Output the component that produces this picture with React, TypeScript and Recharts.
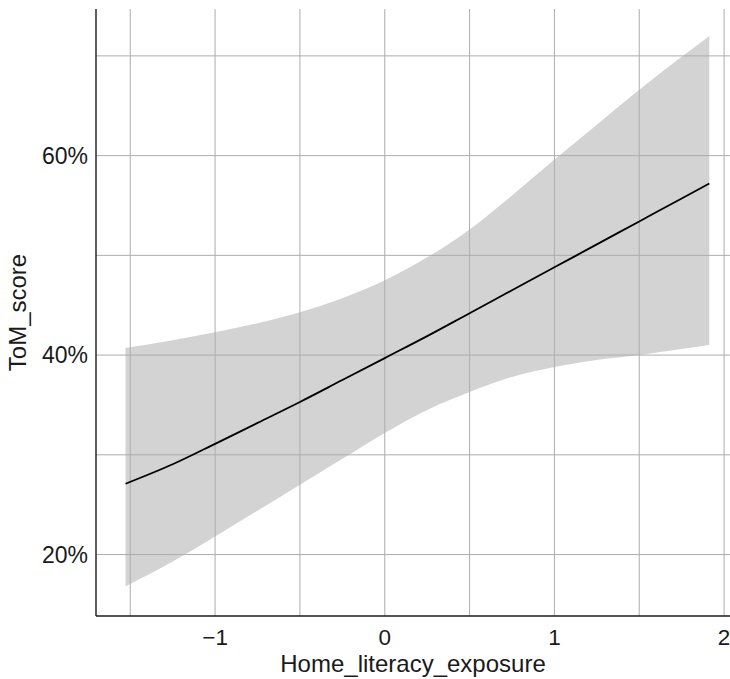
import React from "react";
import { Area, ComposedChart, Label, Line, ReferenceLine, XAxis, YAxis } from "recharts";

const exposure = [-1.528, -1.25, -1, -0.75, -0.5, -0.25, 0, 0.25, 0.5, 0.75, 1, 1.25, 1.5, 1.75, 1.913];
const fitted = [27.1, 29.05, 31.1, 33.2, 35.3, 37.5, 39.7, 41.9, 44.2, 46.5, 48.8, 51.1, 53.4, 55.7, 57.2];
const lower = [16.8, 19.3, 21.8, 24.4, 27.0, 29.6, 32.2, 34.5, 36.3, 37.8, 38.8, 39.5, 40.0, 40.6, 41.0];
const upper = [40.7, 41.5, 42.3, 43.2, 44.3, 45.7, 47.5, 49.8, 52.6, 56.0, 59.6, 63.1, 66.6, 69.9, 72.0];

const xTicks = [-1, 0, 1, 2];
const yTicks = [20, 40, 60];
const xGrid = [-1.5, -1, -0.5, 0, 0.5, 1, 1.5, 2];
const yGrid = [20, 30, 40, 50, 60, 70];

const data = exposure.map((x, i) => ({
	x,
	fit: fitted[i],
	band: [lower[i], upper[i]],
}));

const font = "'Liberation Sans', Arial, sans-serif";
const ink = "#1a1a1a";
const gridColor = "#adadad";

const fmtX = (v: number) => (v < 0 ? `\u2212${Math.abs(v)}` : `${v}`);

const App: React.FC = () => {
	return (
		<div style={{ position: "absolute", left: 0, top: 0, fontFamily: font }}>
			<ComposedChart width={730} height={679} data={data} margin={{ top: 9, right: 0, bottom: 0, left: 0 }}>
				<XAxis
					dataKey="x"
					type="number"
					domain={[-1.702, 2.035]}
					ticks={xTicks}
					tickFormatter={fmtX}
					allowDataOverflow
					height={63}
					tickLine={false}
					tickSize={0}
					tickMargin={13}
					axisLine={{ stroke: ink, strokeWidth: 1.4 }}
					tick={{ fill: ink, fontSize: 22.5, fontFamily: font }}
				>
					<Label
						value="Home_literacy_exposure"
						position="insideBottom"
						offset={7}
						style={{ fill: ink, fontSize: 24, fontFamily: font }}
					/>
				</XAxis>
				<YAxis
					type="number"
					domain={[13.84, 74.7]}
					ticks={yTicks}
					tickFormatter={(v: number) => `${v}%`}
					allowDataOverflow
					width={96}
					tickLine={false}
					tickSize={0}
					tickMargin={8}
					axisLine={{ stroke: ink, strokeWidth: 1.4 }}
					tick={{ fill: ink, fontSize: 23, fontFamily: font }}
				>
					<Label
						value="ToM_score"
						angle={-90}
						position="insideLeft"
						offset={17}
						style={{ fill: ink, fontSize: 24, fontFamily: font, textAnchor: "middle" }}
					/>
				</YAxis>
				<Area
					dataKey="band"
					type="monotone"
					stroke="none"
					fill="#d3d3d3"
					fillOpacity={1}
					isAnimationActive={false}
				/>
				{xGrid.map((v) => (
					<ReferenceLine key={`gx-${v}`} x={v} stroke={gridColor} strokeWidth={1} />
				))}
				{yGrid.map((v) => (
					<ReferenceLine key={`gy-${v}`} y={v} stroke={gridColor} strokeWidth={1} />
				))}
				<Line
					dataKey="fit"
					type="monotone"
					stroke="#000"
					strokeWidth={1.8}
					dot={false}
					activeDot={false}
					isAnimationActive={false}
				/>
			</ComposedChart>
		</div>
	);
};

export default App;
